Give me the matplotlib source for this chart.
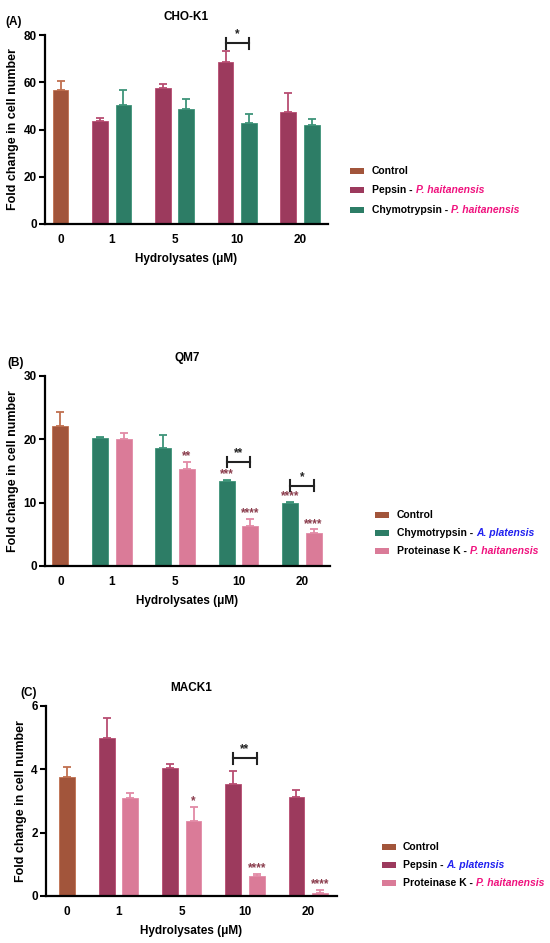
import matplotlib
matplotlib.use("Agg")
import matplotlib.pyplot as plt
from matplotlib.patches import Rectangle
import numpy as np

plt.rcParams['font.family'] = ['Liberation Sans', 'DejaVu Sans']
plt.rcParams['font.weight'] = 'bold'

# ---------------- data ----------------
doses = ["0", "1", "5", "10", "20"]

# Panel A: CHO-K1
a_control = 56.7
a_control_err = 3.8
a_pepsin = [43.7, 57.6, 68.6, 47.3]
a_pepsin_err = [1.0, 1.7, 4.5, 8.1]
a_chymo = [50.2, 48.5, 42.8, 42.0]
a_chymo_err = [6.7, 4.5, 3.8, 2.3]

# Panel B: QM7
b_control = 22.15
b_control_err = 2.15
b_chymo = [20.26, 18.7, 13.37, 10.0]
b_chymo_err = [0.15, 2.0, 0.25, 0.15]
b_protk = [20.0, 15.3, 6.37, 5.16]
b_protk_err = [1.05, 1.1, 1.05, 0.64]
b_chymo_stars = ["", "", "***", "****"]
b_protk_stars = ["", "**", "****", "****"]

# Panel C: MACK1
c_control = 3.77
c_control_err = 0.31
c_pepsin = [4.98, 4.04, 3.54, 3.12]
c_pepsin_err = [0.63, 0.14, 0.41, 0.23]
c_protk = [3.09, 2.37, 0.62, 0.10]
c_protk_err = [0.17, 0.45, 0.08, 0.10]
c_pepsin_stars = ["", "", "", ""]
c_protk_stars = ["", "*", "****", "****"]

# significance brackets: (group index, label, y)
a_brackets = [(2, "*", 76.5)]
b_brackets = [(2, "**", 16.4), (3, "*", 12.7)]
c_brackets = [(2, "**", 4.35)]

# ---------------- style ----------------
COL_CONTROL = "#A2553B"
COL_PEPSIN = "#9C3A5D"
COL_CHYMO = "#2D7D66"
COL_PROTK = "#DA7B98"
ERR_CONTROL = "#C0704F"
ERR_PEPSIN = "#B84D72"
ERR_CHYMO = "#3E9479"
ERR_PROTK = "#E28AA6"
STAR_COL = "#8A3C4C"
PINK_TXT = "#F0127E"
BLUE_TXT = "#1F1FF0"

W, H = 550, 943
fig = plt.figure(figsize=(W / 100, H / 100), dpi=100)


def px_axes(x0, y0, x1, y1):
    return fig.add_axes([x0 / W, 1 - y1 / H, (x1 - x0) / W, (y1 - y0) / H])


GROUP_OFF = 0.815
HALF = 0.187
BW = 0.25


def draw_panel(ax, ctrl, ctrl_err, s1, s1e, s2, s2e, cols, errcols, ymax, yticks,
               xlim, title, stars1, stars2, brackets, star_fs=8.5):
    group_x = GROUP_OFF + np.arange(len(s1))
    x1 = group_x - HALF
    x2 = group_x + HALF
    ekw = dict(lw=1.3, capthick=1.3)
    ax.bar([0], [ctrl], width=BW, color=cols[0], edgecolor=errcols[0], linewidth=0.6, zorder=2)
    ax.errorbar([0], [ctrl], yerr=[[0], [ctrl_err]], fmt='none', ecolor=errcols[0],
                capsize=3.2, zorder=1, **ekw)
    ax.bar(x1, s1, width=BW, color=cols[1], edgecolor=errcols[1], linewidth=0.6, zorder=2)
    ax.errorbar(x1, s1, yerr=[np.zeros(len(s1)), s1e], fmt='none', ecolor=errcols[1],
                capsize=3.2, zorder=1, **ekw)
    ax.bar(x2, s2, width=BW, color=cols[2], edgecolor=errcols[2], linewidth=0.6, zorder=2)
    ax.errorbar(x2, s2, yerr=[np.zeros(len(s2)), s2e], fmt='none', ecolor=errcols[2],
                capsize=3.2, zorder=1, **ekw)
    for xs, ms, es, st in ((x1, s1, s1e, stars1), (x2, s2, s2e, stars2)):
        for xi, m, e, s in zip(xs, ms, es, st):
            if s:
                ax.annotate(s, (xi, m + e), xytext=(0, 1.8), textcoords='offset points',
                            ha='center', va='baseline', fontsize=star_fs, color=STAR_COL,
                            fontweight='bold')
    for gi, lab, yb in brackets:
        xa, xb = x1[gi], x2[gi]
        ax.plot([xa, xb], [yb, yb], color="#222222", lw=1.5, clip_on=False, zorder=3)
        for xe in (xa, xb):
            ax.plot([xe, xe], [yb - ymax * 0.028, yb + ymax * 0.028], color="#222222",
                    lw=1.5, clip_on=False, zorder=3)
        ax.annotate(lab, ((xa + xb) / 2, yb), xytext=(0, 4.2), textcoords='offset points',
                    ha='center', va='baseline', fontsize=8.5, color="#222222",
                    fontweight='bold')

    ax.set_xlim(*xlim)
    ax.set_ylim(0, ymax)
    ax.set_yticks(yticks)
    ax.set_xticks(np.concatenate([[0], group_x]))
    ax.set_xticklabels(doses)
    ax.tick_params(axis='x', length=0, pad=7, labelsize=8.5)
    ax.tick_params(axis='y', length=4, width=1.5, pad=2, labelsize=8.5, direction='out')
    for lab in ax.get_xticklabels() + ax.get_yticklabels():
        lab.set_fontweight('bold')
    for sp in ('top', 'right'):
        ax.spines[sp].set_visible(False)
    for sp in ('left', 'bottom'):
        ax.spines[sp].set_linewidth(1.6)
    ax.set_ylabel("Fold change in cell number", fontsize=9, fontweight='bold', labelpad=3)
    ax.set_xlabel("Hydrolysates (\u03bcM)", fontsize=8.5, fontweight='bold', labelpad=5)
    ax.set_title(title, fontsize=8.5, fontweight='bold', pad=11)


axA = px_axes(45, 35, 328, 224)
draw_panel(axA, a_control, a_control_err, a_pepsin, a_pepsin_err, a_chymo, a_chymo_err,
           (COL_CONTROL, COL_PEPSIN, COL_CHYMO), (ERR_CONTROL, ERR_PEPSIN, ERR_CHYMO),
           80, [0, 20, 40, 60, 80], (-0.247, 4.26), "CHO-K1",
           ["", "", "", ""], ["", "", "", ""], a_brackets)

axB = px_axes(45, 376, 330, 566)
draw_panel(axB, b_control, b_control_err, b_chymo, b_chymo_err, b_protk, b_protk_err,
           (COL_CONTROL, COL_CHYMO, COL_PROTK), (ERR_CONTROL, ERR_CHYMO, ERR_PROTK),
           30, [0, 10, 20, 30], (-0.242, 4.26), "QM7",
           b_chymo_stars, b_protk_stars, b_brackets)

axC = px_axes(46, 706, 337, 896)
draw_panel(axC, c_control, c_control_err, c_pepsin, c_pepsin_err, c_protk, c_protk_err,
           (COL_CONTROL, COL_PEPSIN, COL_PROTK), (ERR_CONTROL, ERR_PEPSIN, ERR_PROTK),
           6, [0, 2, 4, 6], (-0.332, 4.27), "MACK1",
           c_pepsin_stars, c_protk_stars, c_brackets)

# panel letters
for lab, x, y in (("(A)", 5, 22), ("(B)", 7, 363), ("(C)", 20, 693)):
    fig.text(x / W, 1 - y / H, lab, fontsize=8.5, fontweight='bold', va='center', ha='left')

# ---------------- legends ----------------
renderer = fig.canvas.get_renderer()
LEG_FS = 7.5


def legend(px, tx, rows, entries):
    for y, (col, plain, ital, icol) in zip(rows, entries):
        fig.patches.append(Rectangle((px / W, 1 - (y + 3) / H), 14 / W, 6 / H,
                                     transform=fig.transFigure, facecolor=col,
                                     edgecolor='none'))
        t = fig.text(tx / W, 1 - y / H, plain, fontsize=LEG_FS, fontweight='bold',
                     va='center', ha='left', color='black')
        if ital:
            bb = t.get_window_extent(renderer)
            fig.text((bb.x1 + 3) / W, 1 - y / H, ital, fontsize=LEG_FS, fontweight='bold',
                     fontstyle='italic', va='center', ha='left', color=icol)


legend(350, 372, [171, 190, 210], [
    (COL_CONTROL, "Control", "", None),
    (COL_PEPSIN, "Pepsin -", "P. haitanensis", PINK_TXT),
    (COL_CHYMO, "Chymotrypsin -", "P. haitanensis", PINK_TXT),
])
legend(375, 397, [515, 533, 551], [
    (COL_CONTROL, "Control", "", None),
    (COL_CHYMO, "Chymotrypsin -", "A. platensis", BLUE_TXT),
    (COL_PROTK, "Proteinase K -", "P. haitanensis", PINK_TXT),
])
legend(382, 403, [847, 865, 883], [
    (COL_CONTROL, "Control", "", None),
    (COL_PEPSIN, "Pepsin -", "A. platensis", BLUE_TXT),
    (COL_PROTK, "Proteinase K -", "P. haitanensis", PINK_TXT),
])

fig.savefig("out.png", dpi=100)
